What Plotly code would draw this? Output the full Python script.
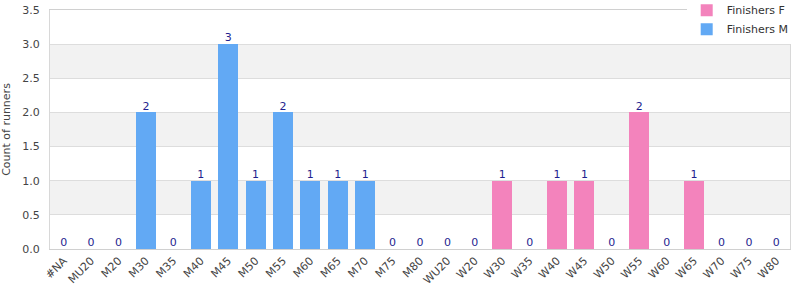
import plotly.graph_objects as go

categories = ["#NA", "MU20", "M20", "M30", "M35", "M40", "M45", "M50", "M55", "M60",
              "M65", "M70", "M75", "M80", "WU20", "W20", "W30", "W35", "W40", "W45",
              "W50", "W55", "W60", "W65", "W70", "W75", "W80"]
finishers_m = [0, 0, 0, 2, 0, 1, 3, 1, 2, 1, 1, 1, 0, 0, 0, 0, 0, 0, 0, 0, 0, 0, 0, 0, 0, 0, 0]
finishers_f = [0, 0, 0, 0, 0, 0, 0, 0, 0, 0, 0, 0, 0, 0, 0, 0, 1, 0, 1, 1, 0, 2, 0, 1, 0, 0, 0]
totals = [m + f for m, f in zip(finishers_m, finishers_f)]

BLUE = "#62a9f4"
PINK = "#f383bc"
FONT = "DejaVu Sans"

fig = go.Figure()
fig.add_trace(go.Bar(x=categories, y=finishers_m, name="Finishers M",
                     marker=dict(color=BLUE, line=dict(width=0))))
fig.add_trace(go.Bar(x=categories, y=finishers_f, name="Finishers F",
                     marker=dict(color=PINK, line=dict(width=0))))
fig.add_trace(go.Scatter(x=categories, y=totals, mode="text",
                         text=[str(t) for t in totals], textposition="top center",
                         textfont=dict(color="#1f1f8f", size=11, family=FONT),
                         showlegend=False, hoverinfo="skip"))

shapes = []
for lo in [0.5, 1.5, 2.5]:
    shapes.append(dict(type="rect", xref="paper", yref="y", x0=0, x1=1, y0=lo, y1=lo + 0.5,
                       fillcolor="#f2f2f2", line=dict(width=0), layer="below"))

fig.update_layout(
    width=800, height=300,
    margin=dict(l=50, r=10, t=10, b=51, autoexpand=False),
    barmode="stack", bargap=0.27,
    plot_bgcolor="white", paper_bgcolor="white",
    font=dict(family=FONT, size=11, color="#444444"),
    shapes=shapes,
    legend=dict(x=1.005, xanchor="right", y=1.06, yanchor="top",
                bgcolor="white", font=dict(size=11, color="#333333"),
                traceorder="reversed", itemwidth=30, tracegroupgap=0),
    xaxis=dict(tickangle=-45, showgrid=False, showline=True, linecolor="#d0d0d0",
               mirror=True, ticks="", automargin=False,
               range=[-0.5, len(categories) - 0.5],
               tickfont=dict(size=11, color="#444444")),
    yaxis=dict(range=[0, 3.5], dtick=0.5, tickformat=".1f", showgrid=True,
               gridcolor="#dddddd", showline=True, linecolor="#d8d8d8", mirror=True,
               zeroline=False, ticks="", ticklabelstandoff=7,
               automargin=False,
               title=dict(text="Count of runners",
                          font=dict(size=11, color="#444444"))),
)

fig.write_html("out.html")
